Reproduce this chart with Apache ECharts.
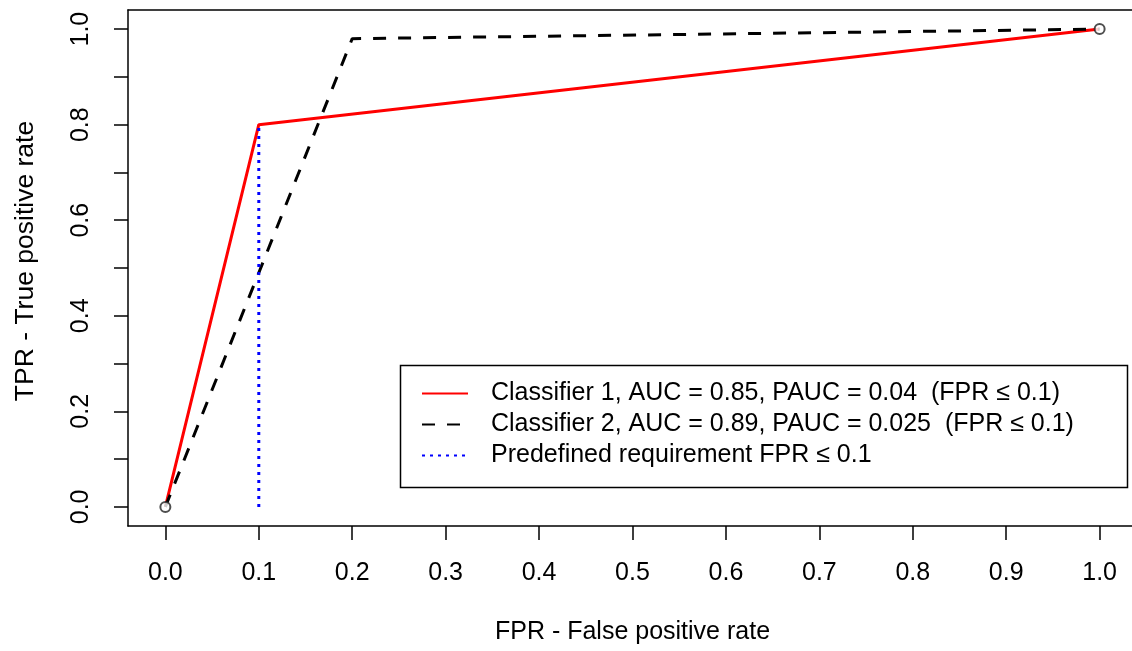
<!DOCTYPE html>
<html>
<head>
<meta charset="utf-8">
<script src="https://cdn.jsdelivr.net/npm/echarts@6/dist/echarts.min.js"></script>
<style>
html,body{margin:0;padding:0;background:#fff;overflow:hidden;}
#c{width:1140px;height:651px;}
</style>
</head>
<body>
<div id="c"></div>
<script>
// ---- data ----
const seriesNames = [
  'Classifier 1, AUC = 0.85, PAUC = 0.04  (FPR \u2264 0.1)',
  'Classifier 2, AUC = 0.89, PAUC = 0.025  (FPR \u2264 0.1)',
  'Predefined requirement FPR \u2264 0.1'
];
const classifier1 = [[0, 0], [0.1, 0.8], [1, 1]];
const classifier2 = [[0, 0], [0.2, 0.98], [1, 1]];
const requirementLine = [[0.1, 0], [0.1, 0.8]];
const endPoints = [[0, 0], [1, 1]];
const xTicks = [0, 0.1, 0.2, 0.3, 0.4, 0.5, 0.6, 0.7, 0.8, 0.9, 1.0];
const yTicks = [0, 0.1, 0.2, 0.3, 0.4, 0.5, 0.6, 0.7, 0.8, 0.9, 1.0];
const yLabels = [0, 0.2, 0.4, 0.6, 0.8, 1.0];
const xTitle = 'FPR - False positive rate';
const yTitle = 'TPR - True positive rate';

const FONT = '"Liberation Sans", Arial, sans-serif';
const chart = echarts.init(document.getElementById('c'), null, {renderer: 'canvas'});
chart.setOption({
  animation: false,
  backgroundColor: '#ffffff',
  grid: {
    left: 128, top: 10, width: 1009, height: 516,
    show: false, containLabel: false
  },
  xAxis: [{
    type: 'value', min: -0.04, max: 1.04, position: 'bottom',
    name: xTitle, nameLocation: 'middle', nameGap: 94,
    nameTextStyle: {fontFamily: FONT, fontSize: 25, color: '#000'},
    splitLine: {show: false},
    axisLine: {show: true, onZero: false, lineStyle: {color: '#000', width: 1.5}},
    axisTick: {show: true, length: 14, lineStyle: {color: '#000', width: 1.5}, customValues: xTicks},
    axisLabel: {
      customValues: xTicks, margin: 35, fontFamily: FONT, fontSize: 25, color: '#000',
      formatter: v => v.toFixed(1)
    }
  }, {
    type: 'value', min: -0.04, max: 1.04, position: 'top',
    splitLine: {show: false},
    axisLine: {show: true, onZero: false, lineStyle: {color: '#000', width: 1.5}},
    axisTick: {show: false}, axisLabel: {show: false}
  }],
  yAxis: {
    type: 'value', min: -0.04, max: 1.04,
    name: yTitle, nameLocation: 'middle', nameGap: 89, nameRotate: 90,
    nameTextStyle: {fontFamily: FONT, fontSize: 26.5, color: '#000', padding: [0, 0, 0, 14]},
    splitLine: {show: false},
    axisLine: {show: true, onZero: false, lineStyle: {color: '#000', width: 1.5}},
    axisTick: {show: true, length: 14, lineStyle: {color: '#000', width: 1.5}, customValues: yTicks},
    axisLabel: {
      customValues: yLabels, rotate: 90, margin: 34, fontFamily: FONT, fontSize: 25, color: '#000',
      formatter: v => v.toFixed(1)
    }
  },
  legend: {
    orient: 'vertical', left: 421, top: 381,
    itemWidth: 46, itemHeight: 14, itemGap: 6,
    padding: 0,
    data: seriesNames,
    itemStyle: {opacity: 0},
    textStyle: {fontFamily: FONT, fontSize: 25, color: '#000', lineHeight: 25, padding: [0, 0, 0, 18]}
  },
  graphic: [{
    type: 'rect', left: 398, top: 363, shape: {width: 727, height: 122},
    style: {fill: 'none', stroke: '#000', lineWidth: 1.5}, z: 10
  }],
  series: [
    {
      name: seriesNames[0], type: 'line', data: classifier1, symbol: 'none',
      lineStyle: {color: '#ff0000', width: 3}, itemStyle: {color: '#ff0000'}, z: 2
    },
    {
      name: seriesNames[1], type: 'line', data: classifier2, symbol: 'none',
      lineStyle: {color: '#000000', width: 3, type: [13, 12]}, itemStyle: {color: '#000000'}, z: 3
    },
    {
      name: seriesNames[2], type: 'line', data: requirementLine, symbol: 'none',
      lineStyle: {color: '#0000ff', width: 3, type: [3, 5]}, itemStyle: {color: '#0000ff'}, z: 4
    },
    {
      type: 'scatter', data: endPoints, symbol: 'emptyCircle', symbolSize: 10,
      itemStyle: {color: '#222', borderColor: '#222', borderWidth: 1}, z: 5
    }
  ]
});
</script>
</body>
</html>
